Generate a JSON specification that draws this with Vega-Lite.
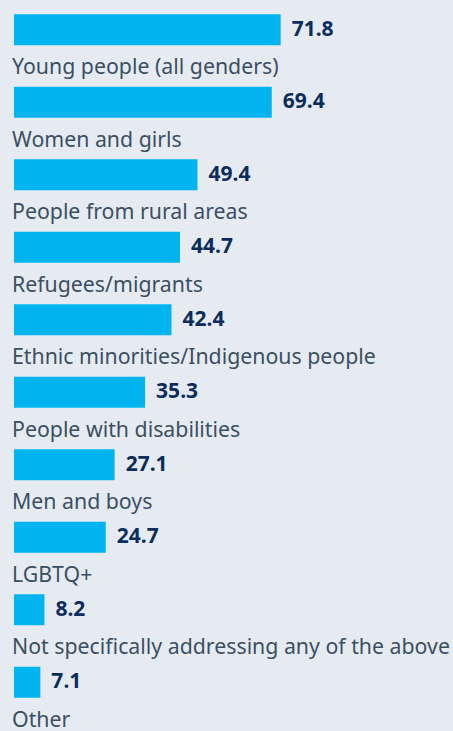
{
  "$schema": "https://vega.github.io/schema/vega-lite/v6.json",
  "autosize": {"type": "fit", "contains": "padding"},
  "width": 453,
  "height": 731,
  "padding": {"left": 12, "right": 0, "top": 0, "bottom": 0},
  "background": "#e6ebf2",
  "config": {"view": {"stroke": null}, "font": "Noto Sans"},
  "data": {
    "values": [
      {"group": "Young people (all genders)", "value": 71.8},
      {"group": "Women and girls", "value": 69.4},
      {"group": "People from rural areas", "value": 49.4},
      {"group": "Refugees/migrants", "value": 44.7},
      {"group": "Ethnic minorities/Indigenous people", "value": 42.4},
      {"group": "People with disabilities", "value": 35.3},
      {"group": "Men and boys", "value": 27.1},
      {"group": "LGBTQ+", "value": 24.7},
      {"group": "Not specifically addressing any of the above", "value": 8.2},
      {"group": "Other", "value": 7.1}
    ]
  },
  "encoding": {
    "y": {
      "field": "group",
      "type": "nominal",
      "sort": null,
      "axis": null,
      "scale": {"paddingInner": 0, "paddingOuter": 0}
    }
  },
  "layer": [
    {
      "mark": {"type": "bar", "height": 31, "yOffset": -6.5, "color": "#00b5ef"},
      "encoding": {
        "x": {"field": "value", "type": "quantitative", "axis": null, "scale": {"domain": [0, 118.2], "nice": false, "zero": true}}
      }
    },
    {
      "mark": {"type": "text", "align": "left", "baseline": "middle", "dx": 11, "yOffset": -6.5, "fontSize": 21, "fontWeight": "bold", "color": "#0b2d5c"},
      "encoding": {
        "x": {"field": "value", "type": "quantitative"},
        "text": {"field": "value", "type": "quantitative", "format": ".1f"}
      }
    },
    {
      "mark": {"type": "text", "align": "left", "baseline": "alphabetic", "dx": -2, "yOffset": 38, "fontSize": 21.3, "color": "#3b4f63"},
      "encoding": {
        "x": {"datum": 0, "type": "quantitative"},
        "text": {"field": "group", "type": "nominal"}
      }
    }
  ]
}
